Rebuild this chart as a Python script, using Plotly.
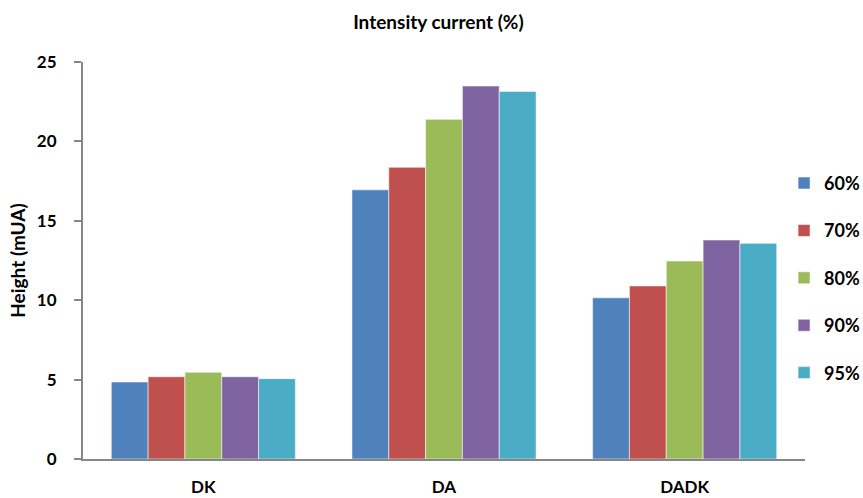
import plotly.graph_objects as go

# Electrode groups on the x axis
categories = ["DK", "DA", "DADK"]

# Peak height (mUA) per intensity current setting
series_names = ["60%", "70%", "80%", "90%", "95%"]
values_60 = [4.85, 16.95, 10.15]
values_70 = [5.18, 18.37, 10.9]
values_80 = [5.46, 21.39, 12.47]
values_90 = [5.18, 23.49, 13.79]
values_95 = [5.06, 23.15, 13.58]

colors = ["#4F81BD", "#C0504D", "#9BBB59", "#8064A2", "#4BACC6"]

y_ticks = [0, 5, 10, 15, 20, 25]

font_family = "Lato, 'Open Sans', sans-serif"


def bold_font(size):
    return dict(size=size, family=font_family, color="black", weight="bold")


fig = go.Figure()
for i, (name, vals) in enumerate(zip(series_names,
                                     [values_60, values_70, values_80, values_90, values_95])):
    fig.add_trace(go.Bar(
        x=categories,
        y=vals,
        name=name,
        legendgroup=name,
        marker=dict(color=colors[i], line=dict(color="rgba(255,255,255,0.55)", width=1)),
    ))

fig.update_layout(
    width=863,
    height=498,
    margin=dict(l=83, r=58, t=62, b=39, autoexpand=False),
    paper_bgcolor="white",
    plot_bgcolor="white",
    barmode="group",
    bargap=0.235,
    bargroupgap=0,
    font=bold_font(15),
    title=dict(
        text="Intensity current (%)",
        x=0.508, xanchor="center",
        y=1 - 22 / 498, yanchor="middle", yref="container",
        font=bold_font(19),
    ),
    legend=dict(
        x=0.971, xanchor="left",
        y=0.741, yanchor="top",
        font=bold_font(18),
        tracegroupgap=21,
        itemwidth=30,
        bgcolor="rgba(0,0,0,0)",
    ),
    xaxis=dict(
        showline=True, linecolor="#868686", linewidth=2,
        ticks="", showgrid=False,
        tickfont=bold_font(17),
        ticklabelstandoff=12,
    ),
    yaxis=dict(
        range=[0, 25],
        tickvals=y_ticks,
        showline=True, linecolor="#868686", linewidth=2,
        ticks="outside", ticklen=7, tickcolor="#868686", tickwidth=2,
        showgrid=False, zeroline=False,
        tickfont=bold_font(17),
        ticklabelstandoff=14,
        title=dict(text="Height (mUA)", standoff=6, font=bold_font(19)),
    ),
)

fig.write_html("out.html")
